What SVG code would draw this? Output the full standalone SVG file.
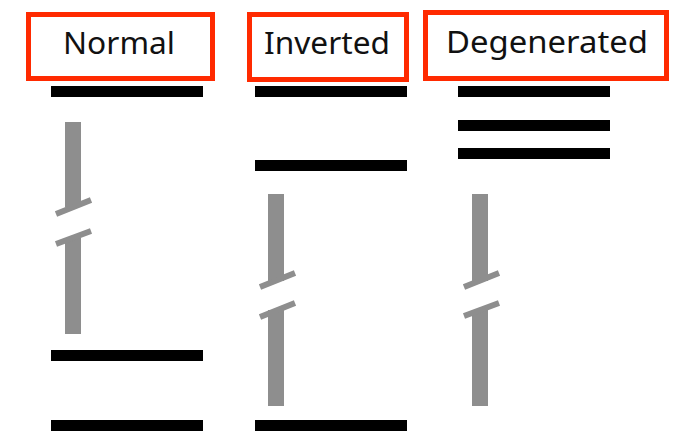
<svg xmlns="http://www.w3.org/2000/svg" width="678" height="431" viewBox="0 0 678 431">
  <defs>
    <style>
      .label-box { fill: #ffffff; stroke: #ff2a00; stroke-width: 5; }
      .label { font-family: "Noto Sans", "Open Sans", "DejaVu Sans", sans-serif; font-size: 30px; fill: #111111; text-anchor: middle; }
      .level { fill: #000000; }
      .shaft { fill: #8e8e8e; }
      .cut { stroke: #8e8e8e; stroke-width: 6; stroke-linecap: butt; fill: none; }
    </style>
  </defs>
  <rect width="678" height="431" fill="#ffffff"/>

  <!-- Normal column -->
  <g id="normal-label">
    <rect class="label-box" x="28.5" y="14.5" width="184" height="64"/>
    <text class="label" x="119" y="54" textLength="112" lengthAdjust="spacingAndGlyphs">Normal</text>
  </g>
  <g id="normal-levels">
    <rect class="level" x="51" y="86" width="152" height="11"/>
    <rect class="level" x="51" y="350" width="152" height="11"/>
    <rect class="level" x="51" y="420" width="152" height="11"/>
  </g>

  <!-- Inverted column -->
  <g id="inverted-label">
    <rect class="label-box" x="249.5" y="14.5" width="157" height="65"/>
    <text class="label" x="327" y="54" textLength="126" lengthAdjust="spacingAndGlyphs">Inverted</text>
  </g>
  <g id="inverted-levels">
    <rect class="level" x="255" y="86" width="152" height="11"/>
    <rect class="level" x="255" y="160" width="152" height="11"/>
    <rect class="level" x="255" y="420" width="152" height="11"/>
  </g>

  <!-- Degenerated column -->
  <g id="degenerated-label">
    <rect class="label-box" x="425.5" y="12.5" width="241" height="66"/>
    <text class="label" x="547" y="53" textLength="202" lengthAdjust="spacingAndGlyphs">Degenerated</text>
  </g>
  <g id="degenerated-levels">
    <rect class="level" x="458" y="86" width="152" height="11"/>
    <rect class="level" x="458" y="120" width="152" height="11"/>
    <rect class="level" x="458" y="148" width="152" height="11"/>
  </g>

  <!-- broken transition shafts -->
  <g id="connectors">
    <g id="normal-shaft">
      <rect class="shaft" x="65" y="122" width="16" height="85"/>
      <line class="cut" x1="56" y1="214" x2="91" y2="200"/>
      <rect class="shaft" x="65" y="238" width="16" height="96"/>
      <line class="cut" x1="56" y1="244" x2="91" y2="231"/>
    </g>
    <g id="inverted-shaft">
      <rect class="shaft" x="268" y="194" width="16" height="87"/>
      <line class="cut" x1="260" y1="287" x2="295" y2="273"/>
      <rect class="shaft" x="268" y="310" width="16" height="96"/>
      <line class="cut" x1="260" y1="317" x2="295" y2="303"/>
    </g>
    <g id="degenerated-shaft">
      <rect class="shaft" x="472" y="194" width="16" height="87"/>
      <line class="cut" x1="464" y1="287" x2="499" y2="273"/>
      <rect class="shaft" x="472" y="310" width="16" height="96"/>
      <line class="cut" x1="464" y1="316" x2="499" y2="303"/>
    </g>
  </g>
</svg>
